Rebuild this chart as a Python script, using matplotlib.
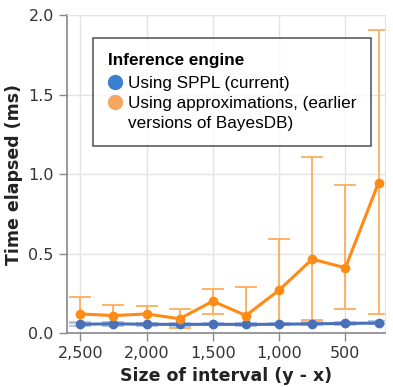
import matplotlib
matplotlib.use("Agg")
import matplotlib.pyplot as plt
from matplotlib.lines import Line2D
from matplotlib.ticker import FuncFormatter

sizes = [2500, 2250, 2000, 1750, 1500, 1250, 1000, 750, 500, 250]

approx_mean = [0.12, 0.11, 0.12, 0.09, 0.20, 0.11, 0.27, 0.465, 0.41, 0.945]
approx_hi = [0.226, 0.176, 0.17, 0.15, 0.28, 0.29, 0.59, 1.11, 0.93, 1.906]
approx_lo = [0.063, 0.046, 0.063, 0.033, 0.12, 0.046, 0.05, 0.08, 0.15, 0.12]

sppl_mean = [0.055, 0.058, 0.055, 0.054, 0.055, 0.054, 0.055, 0.058, 0.060, 0.063]
sppl_hi = [0.068, 0.072, 0.066, 0.064, 0.064, 0.062, 0.063, 0.067, 0.070, 0.075]
sppl_lo = [0.047, 0.047, 0.047, 0.046, 0.048, 0.047, 0.048, 0.050, 0.052, 0.055]

xticks = [2500, 2000, 1500, 1000, 500]
yticks = [0.0, 0.5, 1.0, 1.5, 2.0]

legend_title = "Inference engine"
legend_labels = ["Using SPPL (current)",
                 "Using approximations, (earlier",
                 "versions of BayesDB)"]

ORANGE = "#ff8a14"
ORANGE_ERR = "#ffac5c"
BLUE = "#4a70b8"
BLUE_ERR = "#a9c4ec"

fig = plt.figure(figsize=(3.93, 3.87), dpi=100)
ax = fig.add_axes([0.1705, 0.1395, 0.8095, 0.8215])

a_err = [[m - l for m, l in zip(approx_mean, approx_lo)],
         [h - m for m, h in zip(approx_mean, approx_hi)]]
s_err = [[m - l for m, l in zip(sppl_mean, sppl_lo)],
         [h - m for m, h in zip(sppl_mean, sppl_hi)]]

ax.errorbar(sizes, approx_mean, yerr=a_err, fmt="none", ecolor=ORANGE_ERR,
            elinewidth=1.3, capsize=8, capthick=1.3, zorder=2)
ax.errorbar(sizes, sppl_mean, yerr=s_err, fmt="none", ecolor=BLUE_ERR,
            elinewidth=1.3, capsize=8, capthick=1.3, zorder=2)
ax.plot(sizes, sppl_mean, color=BLUE, lw=2.2, marker="o", ms=6, zorder=3)
ax.plot(sizes, approx_mean, color=ORANGE, lw=2.2, marker="o", ms=6, zorder=4)

ax.set_xlim(2600, 200)
ax.set_ylim(0, 2.0)
ax.set_xticks(xticks)
ax.set_yticks(yticks)
ax.xaxis.set_major_formatter(FuncFormatter(lambda v, p: f"{int(v):,}"))
ax.yaxis.set_major_formatter(FuncFormatter(lambda v, p: f"{v:.1f}"))

ax.grid(True, color="#e3e3e3", lw=1.0)
ax.set_axisbelow(True)
for s in ["top", "right"]:
    ax.spines[s].set_color("#e3e3e3")
for s in ["left", "bottom"]:
    ax.spines[s].set_color("#888888")
    ax.spines[s].set_linewidth(1.2)
ax.tick_params(axis="both", colors="#888888", length=6, width=1.0,
               labelcolor="#333333", labelsize=11.5)

ax.set_xlabel("Size of interval (y - x)", fontsize=12.5, fontweight="bold",
              color="#222222", labelpad=4)
ax.set_ylabel("Time elapsed (ms)", fontsize=12.5, fontweight="bold",
              color="#222222", labelpad=4)

handles = [Line2D([], [], ls="none", marker="o", ms=10, color="#3b7fd0"),
           Line2D([], [], ls="none", marker="o", ms=10, color="#f4a75e"),
           Line2D([], [], ls="none", marker="")]
leg = ax.legend(handles, legend_labels, title=legend_title, loc="upper left",
                bbox_to_anchor=(0.082, 0.928), frameon=True, fancybox=False,
                edgecolor="#333333", handletextpad=0.3, handlelength=0.9,
                borderpad=0.85, labelspacing=0.3, borderaxespad=0,
                prop={"family": "Liberation Sans", "size": 12.3})
leg.get_title().set_fontproperties({"family": "Liberation Sans", "size": 12.3,
                                    "weight": "bold"})
leg._legend_box.align = "left"
leg._legend_box.sep = 6
leg.get_frame().set_linewidth(1.2)

fig.savefig("out.png", dpi=100)
